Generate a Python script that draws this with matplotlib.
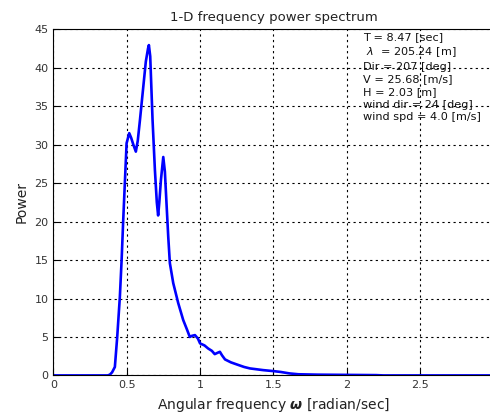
import matplotlib
matplotlib.use('Agg')
import matplotlib.pyplot as plt
import numpy as np

plt.rcParams['font.family'] = ['DejaVu Sans']
plt.rcParams['mathtext.fontset'] = 'dejavusans'

# angular frequency [rad/s] and spectral power
omega = [0, 0.37, 0.385, 0.40, 0.419, 0.435, 0.453, 0.465, 0.476, 0.487,
         0.499, 0.517, 0.53, 0.545, 0.562, 0.575, 0.59, 0.61, 0.63, 0.645,
         0.651, 0.66, 0.676, 0.692, 0.705, 0.714, 0.722, 0.733, 0.749, 0.76,
         0.771, 0.783, 0.794, 0.817, 0.851, 0.885, 0.91, 0.93, 0.945, 0.965,
         0.985, 1.0, 1.03, 1.055, 1.08, 1.10, 1.12, 1.135, 1.15, 1.17,
         1.21, 1.25, 1.30, 1.34, 1.43, 1.5, 1.55, 1.61, 1.67, 1.8,
         2.0, 2.2, 2.25, 3.0]
power = [0, 0, 0.1, 0.4, 1.1, 5.0, 10.2, 15, 20.2, 25,
         30.2, 31.5, 30.9, 30.0, 29.1, 30.5, 33.2, 37, 40.8, 42.5,
         42.95, 41.5, 33.2, 26.7, 22.5, 20.8, 22.5, 25.4, 28.4, 26.5,
         22.4, 18, 14.6, 12, 9.4, 7.2, 6.0, 5.0, 5.15, 5.24,
         4.8, 4.16, 3.9, 3.5, 3.2, 2.77, 2.95, 3.07, 2.6, 2.08,
         1.7, 1.43, 1.1, 0.91, 0.69, 0.56, 0.45, 0.26, 0.15, 0.1,
         0.07, 0.04, 0, 0]

x_ticks = np.arange(0, 3.01, 0.5)
x_ticklabels = ['0', '0.5', '1', '1.5', '2', '2.5', '3']
y_ticks = np.arange(0, 46, 5)

info_lines = ['T = 8.47 [sec]',
              r' $\lambda$  = 205.24 [m]',
              'Dir = 207 [deg]',
              'V = 25.68 [m/s]',
              'H = 2.03 [m]',
              'wind dir = 24 [deg]',
              'wind spd = 4.0 [m/s]']

fig = plt.figure(figsize=(4.9, 4.19), dpi=100)
ax = fig.add_axes([0.109, 0.104, 0.898, 0.826])

ax.plot(omega, power, color='#0000ff', linewidth=1.9)

ax.set_xlim(0, 3)
ax.set_ylim(0, 45)
ax.set_xticks(x_ticks)
ax.set_xticklabels(x_ticklabels)
ax.set_yticks(y_ticks)
ax.tick_params(axis='both', direction='in', labelsize=8, length=4,
               colors='black', labelcolor='#333333')
ax.grid(True, color='black', linestyle=(0, (2, 3)), linewidth=0.8)
for sp in ax.spines.values():
    sp.set_linewidth(0.8)

ax.set_title('1-D frequency power spectrum', fontsize=9.5, color='#222222')
ax.set_xlabel(r'Angular frequency $\boldsymbol{\omega}$ [radian/sec]',
              fontsize=10, color='#222222')
ax.set_ylabel('Power', fontsize=10, color='#222222')

ax.text(2.11, 44.6, '\n'.join(info_lines), fontsize=8.1, va='top',
        ha='left', linespacing=1.32, color='#111111')

fig.savefig('out.png', dpi=100)
